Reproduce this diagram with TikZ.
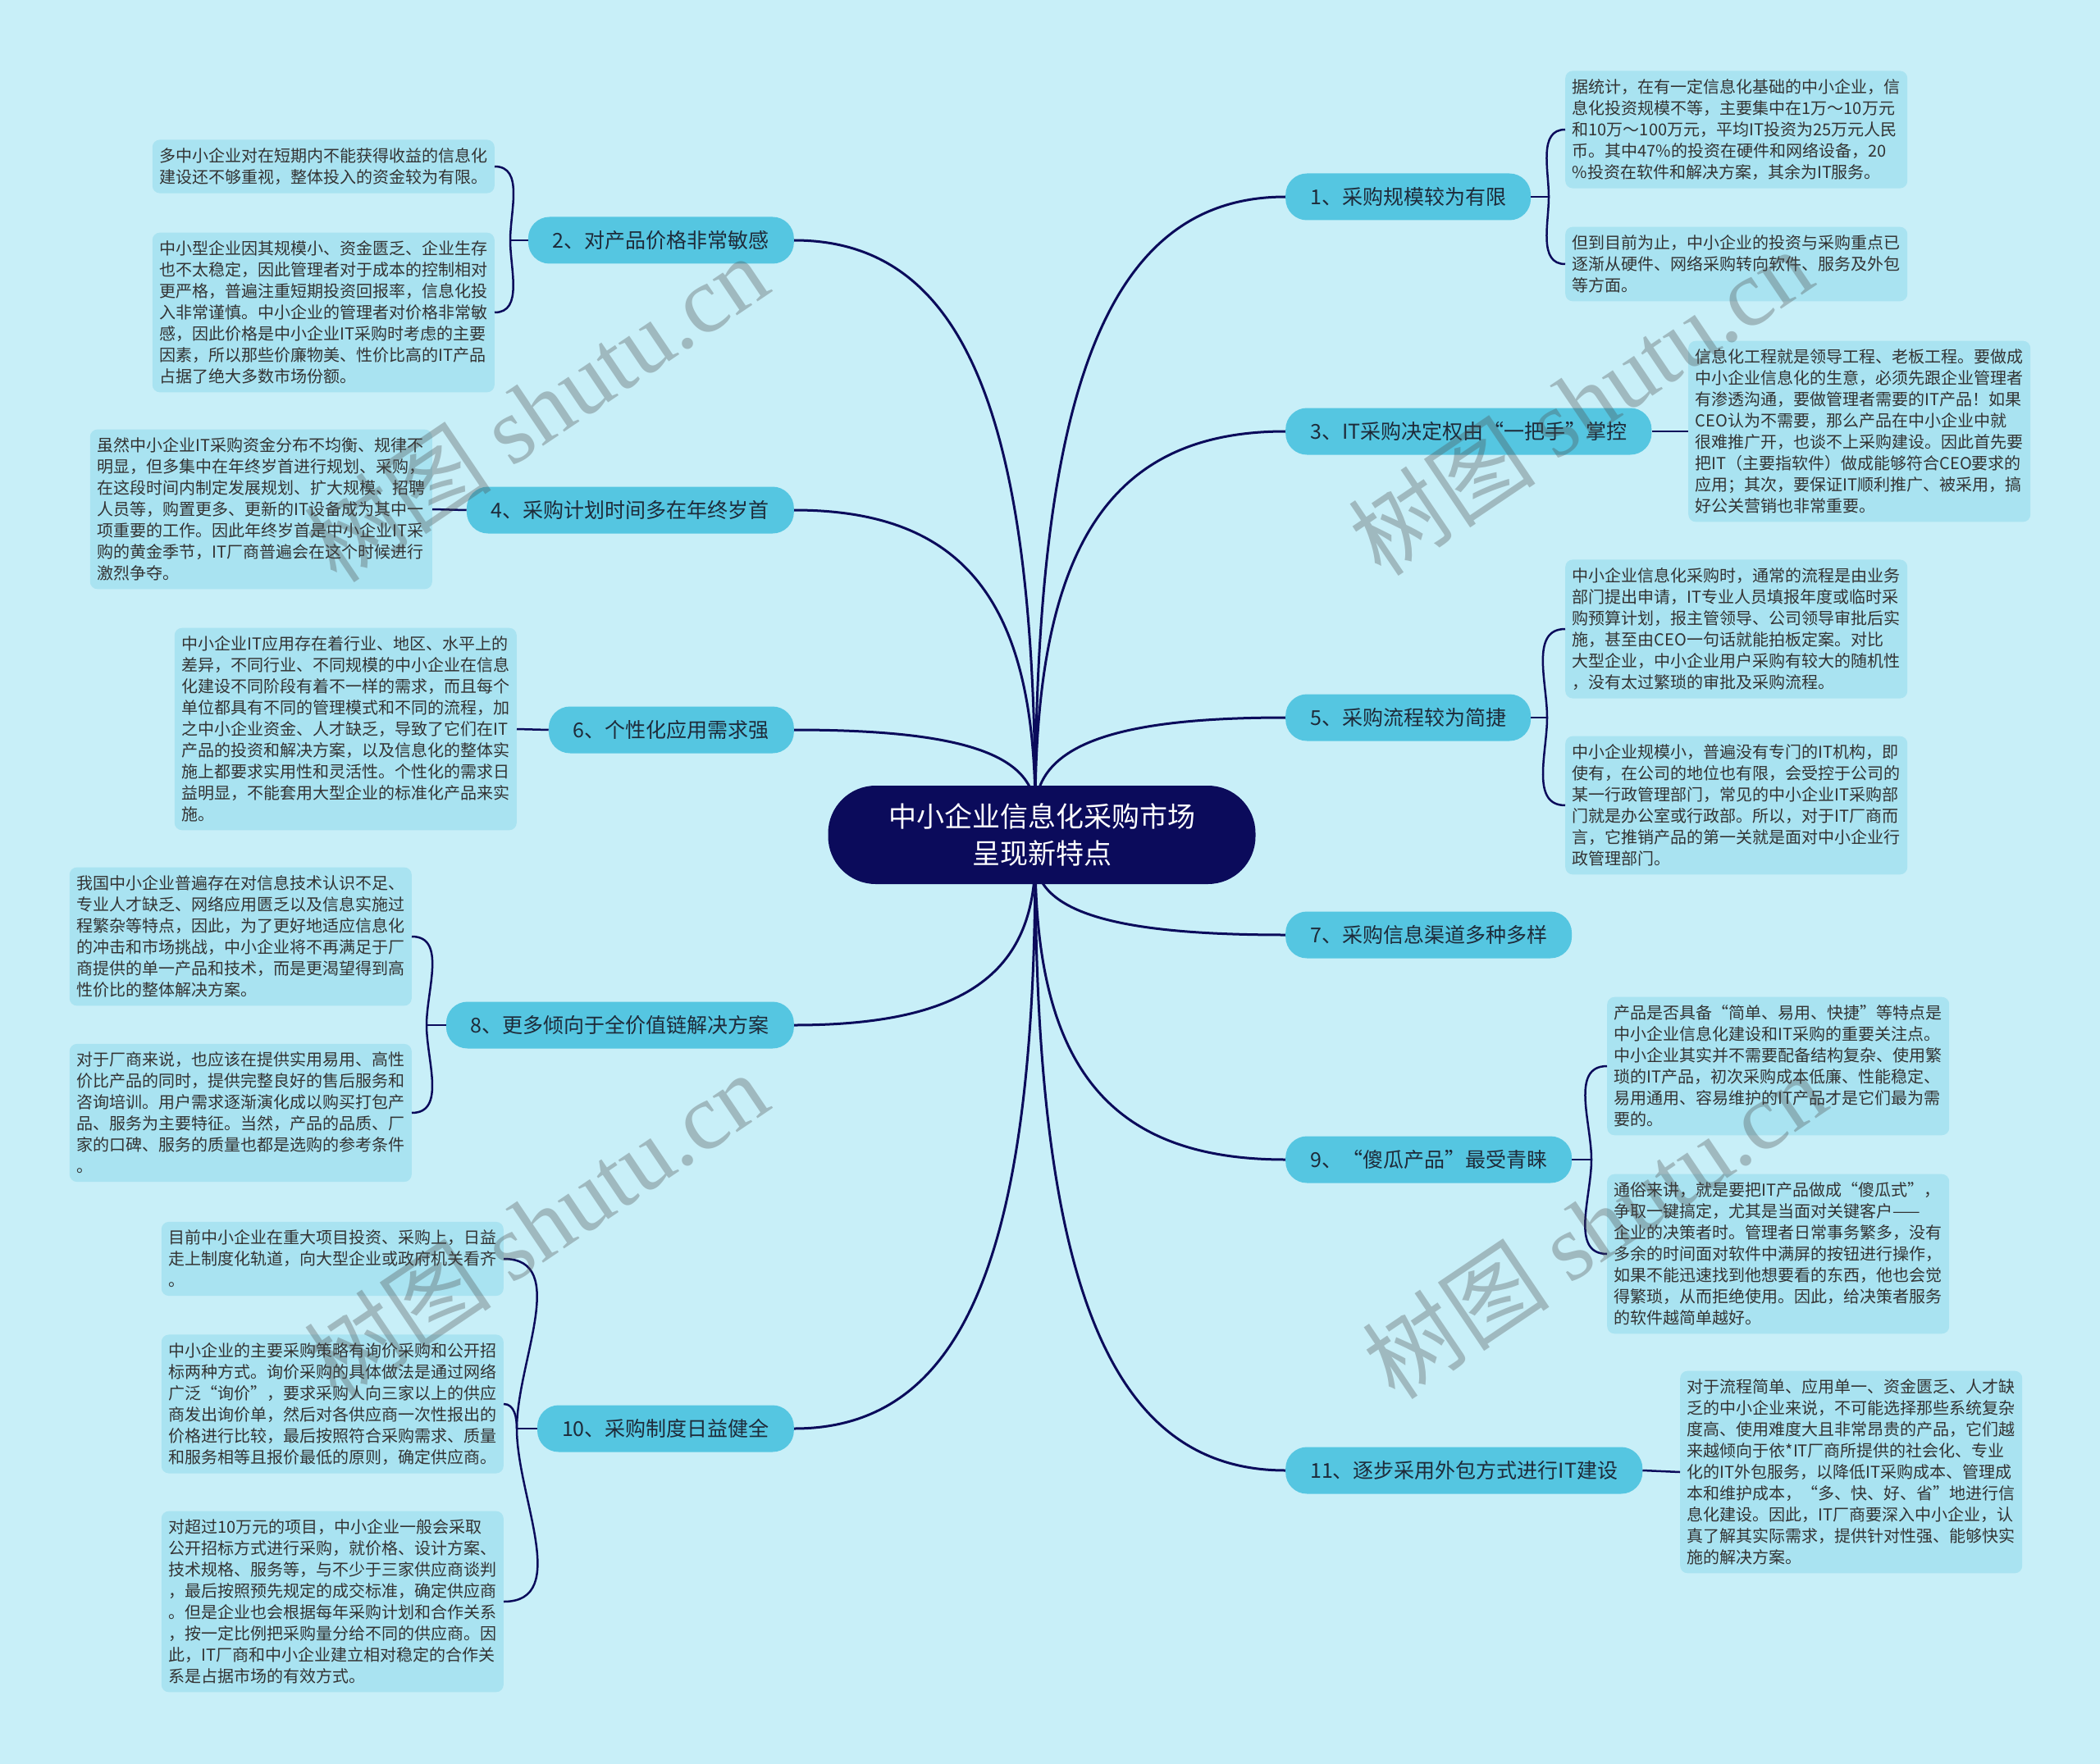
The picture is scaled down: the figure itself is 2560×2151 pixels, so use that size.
\documentclass[tikz,border=0pt]{standalone}
\usepackage{fontspec}
\setmainfont{Noto Sans CJK SC}
\newfontfamily\cjkwm{Noto Sans CJK SC}
\newfontfamily\wmserif{Liberation Serif}
\usetikzlibrary{calc,backgrounds}
\definecolor{bgc}{HTML}{C8EFF8}
\definecolor{navy}{HTML}{0B0B5B}
\definecolor{brc}{HTML}{55C6E1}
\definecolor{brtext}{HTML}{1E2B3A}
\definecolor{leafc}{HTML}{A9E3F1}
\definecolor{leaftext}{HTML}{333333}
\begin{document}
\begin{tikzpicture}[x=1pt,y=1pt,
  rootnode/.style={rounded corners=58pt, fill=navy, text=white, font=\fontsize{34}{45}\selectfont, align=center, minimum width=521pt, minimum height=120pt},
  brnode/.style={rounded corners=26pt, fill=brc, text=brtext, font=\fontsize{25}{30}\selectfont, minimum height=57pt, inner xsep=30pt},
  leafnode/.style={rounded corners=9pt, fill=leafc, text=leaftext, font=\fontsize{20}{26}\selectfont, text width=400pt, align=left, inner xsep=8.5pt, inner ysep=10pt},
  link/.style={draw=navy, line width=3pt},
  sublink/.style={draw=navy, line width=2.5pt},
  wm/.style={text=black!70, text opacity=0.33, font=\fontsize{115}{120}\selectfont, rotate=34}
]
\useasboundingbox (0,0) rectangle (2560,-2151);

% root
\node[rootnode] (root) at (1270,-1018) {中小企业信息化采购市场\\呈现新特点};
\coordinate (rtop) at (1262,-990);
\coordinate (rbot) at (1262,-1045);

% branches
\node[brnode, anchor=west] (b1) at (1567,-240) {1、采购规模较为有限};
\node[brnode, anchor=east] (b2) at (968,-293) {2、对产品价格非常敏感};
\node[brnode, anchor=west] (b3) at (1567,-526) {3、IT采购决定权由“一把手”掌控};
\node[brnode, anchor=east] (b4) at (968,-622) {4、采购计划时间多在年终岁首};
\node[brnode, anchor=west] (b5) at (1567,-875) {5、采购流程较为简捷};
\node[brnode, anchor=east] (b6) at (968,-890) {6、个性化应用需求强};
\node[brnode, anchor=west] (b7) at (1567,-1140) {7、采购信息渠道多种多样};
\node[brnode, anchor=east] (b8) at (968,-1250) {8、更多倾向于全价值链解决方案};
\node[brnode, anchor=west] (b9) at (1567,-1414) {9、“傻瓜产品”最受青睐};
\node[brnode, anchor=east] (b10) at (968,-1742) {10、采购制度日益健全};
\node[brnode, anchor=west] (b11) at (1567,-1793) {11、逐步采用外包方式进行IT建设};

% leaves right
\node[leafnode, anchor=west] (l1a) at (1908,-158) {据统计，在有一定信息化基础的中小企业，信\\
息化投资规模不等，主要集中在1万～10万元\\
和10万～100万元，平均IT投资为25万元人民\\
币。其中47\%的投资在硬件和网络设备，20\\
\%投资在软件和解决方案，其余为IT服务。};
\node[leafnode, anchor=west] (l1b) at (1908,-322) {但到目前为止，中小企业的投资与采购重点已\\
逐渐从硬件、网络采购转向软件、服务及外包\\
等方面。};
\node[leafnode, anchor=west] (l3) at (2058,-526) {信息化工程就是领导工程、老板工程。要做成\\
中小企业信息化的生意，必须先跟企业管理者\\
有渗透沟通，要做管理者需要的IT产品！如果\\
CEO认为不需要，那么产品在中小企业中就\\
很难推广开，也谈不上采购建设。因此首先要\\
把IT（主要指软件）做成能够符合CEO要求的\\
应用；其次，要保证IT顺利推广、被采用，搞\\
好公关营销也非常重要。};
\node[leafnode, anchor=west] (l5a) at (1908,-767) {中小企业信息化采购时，通常的流程是由业务\\
部门提出申请，IT专业人员填报年度或临时采\\
购预算计划，报主管领导、公司领导审批后实\\
施，甚至由CEO一句话就能拍板定案。对比\\
大型企业，中小企业用户采购有较大的随机性\\
，没有太过繁琐的审批及采购流程。};
\node[leafnode, anchor=west] (l5b) at (1908,-982) {中小企业规模小，普遍没有专门的IT机构，即\\
使有，在公司的地位也有限，会受控于公司的\\
某一行政管理部门，常见的中小企业IT采购部\\
门就是办公室或行政部。所以，对于IT厂商而\\
言，它推销产品的第一关就是面对中小企业行\\
政管理部门。};
\node[leafnode, anchor=west] (l9a) at (1959,-1300) {产品是否具备“简单、易用、快捷”等特点是\\
中小企业信息化建设和IT采购的重要关注点。\\
中小企业其实并不需要配备结构复杂、使用繁\\
琐的IT产品，初次采购成本低廉、性能稳定、\\
易用通用、容易维护的IT产品才是它们最为需\\
要的。};
\node[leafnode, anchor=west] (l9b) at (1959,-1529) {通俗来讲，就是要把IT产品做成“傻瓜式”，\\
争取一键搞定，尤其是当面对关键客户——\\
企业的决策者时。管理者日常事务繁多，没有\\
多余的时间面对软件中满屏的按钮进行操作，\\
如果不能迅速找到他想要看的东西，他也会觉\\
得繁琐，从而拒绝使用。因此，给决策者服务\\
的软件越简单越好。};
\node[leafnode, anchor=west] (l11) at (2048,-1795) {对于流程简单、应用单一、资金匮乏、人才缺\\
乏的中小企业来说，不可能选择那些系统复杂\\
度高、使用难度大且非常昂贵的产品，它们越\\
来越倾向于依*IT厂商所提供的社会化、专业\\
化的IT外包服务，以降低IT采购成本、管理成\\
本和维护成本，“多、快、好、省”地进行信\\
息化建设。因此，IT厂商要深入中小企业，认\\
真了解其实际需求，提供针对性强、能够快实\\
施的解决方案。};

% leaves left
\node[leafnode, anchor=east] (l2a) at (603,-203) {多中小企业对在短期内不能获得收益的信息化\\
建设还不够重视，整体投入的资金较为有限。};
\node[leafnode, anchor=east] (l2b) at (603,-381) {中小型企业因其规模小、资金匮乏、企业生存\\
也不太稳定，因此管理者对于成本的控制相对\\
更严格，普遍注重短期投资回报率，信息化投\\
入非常谨慎。中小企业的管理者对价格非常敏\\
感，因此价格是中小企业IT采购时考虑的主要\\
因素，所以那些价廉物美、性价比高的IT产品\\
占据了绝大多数市场份额。};
\node[leafnode, anchor=east] (l4) at (527,-621) {虽然中小企业IT采购资金分布不均衡、规律不\\
明显，但多集中在年终岁首进行规划、采购，\\
在这段时间内制定发展规划、扩大规模、招聘\\
人员等，购置更多、更新的IT设备成为其中一\\
项重要的工作。因此年终岁首是中小企业IT采\\
购的黄金季节，IT厂商普遍会在这个时候进行\\
激烈争夺。};
\node[leafnode, anchor=east] (l6) at (630,-889) {中小企业IT应用存在着行业、地区、水平上的\\
差异，不同行业、不同规模的中小企业在信息\\
化建设不同阶段有着不一样的需求，而且每个\\
单位都具有不同的管理模式和不同的流程，加\\
之中小企业资金、人才缺乏，导致了它们在IT\\
产品的投资和解决方案，以及信息化的整体实\\
施上都要求实用性和灵活性。个性化的需求日\\
益明显，不能套用大型企业的标准化产品来实\\
施。};
\node[leafnode, anchor=east] (l8a) at (502,-1142) {我国中小企业普遍存在对信息技术认识不足、\\
专业人才缺乏、网络应用匮乏以及信息实施过\\
程繁杂等特点，因此，为了更好地适应信息化\\
的冲击和市场挑战，中小企业将不再满足于厂\\
商提供的单一产品和技术，而是更渴望得到高\\
性价比的整体解决方案。};
\node[leafnode, anchor=east] (l8b) at (502,-1357) {对于厂商来说，也应该在提供实用易用、高性\\
价比产品的同时，提供完整良好的售后服务和\\
咨询培训。用户需求逐渐演化成以购买打包产\\
品、服务为主要特征。当然，产品的品质、厂\\
家的口碑、服务的质量也都是选购的参考条件\\
。};
\node[leafnode, anchor=east] (l10a) at (614,-1535) {目前中小企业在重大项目投资、采购上，日益\\
走上制度化轨道，向大型企业或政府机关看齐\\
。};
\node[leafnode, anchor=east] (l10b) at (614,-1712) {中小企业的主要采购策略有询价采购和公开招\\
标两种方式。询价采购的具体做法是通过网络\\
广泛“询价”，要求采购人向三家以上的供应\\
商发出询价单，然后对各供应商一次性报出的\\
价格进行比较，最后按照符合采购需求、质量\\
和服务相等且报价最低的原则，确定供应商。};
\node[leafnode, anchor=east] (l10c) at (614,-1953) {对超过10万元的项目，中小企业一般会采取\\
公开招标方式进行采购，就价格、设计方案、\\
技术规格、服务等，与不少于三家供应商谈判\\
，最后按照预先规定的成交标准，确定供应商\\
。但是企业也会根据每年采购计划和合作关系\\
，按一定比例把采购量分给不同的供应商。因\\
此，IT厂商和中小企业建立相对稳定的合作关\\
系是占据市场的有效方式。};

\begin{pgfonlayer}{background}
\fill[bgc] (0,0) rectangle (2560,-2151);
% main connectors
\draw[link] (rtop) .. controls (1262,-465) and (1354,-240) .. (b1.west);
\draw[link] (rtop) .. controls (1262,-665) and (1354,-526) .. (b3.west);
\draw[link] (rtop) .. controls (1262,-910) and (1354,-875) .. (b5.west);
\draw[link] (rbot) .. controls (1262,-1111) and (1354,-1140) .. (b7.west);
\draw[link] (rbot) .. controls (1262,-1303) and (1354,-1414) .. (b9.west);
\draw[link] (rbot) .. controls (1262,-1569) and (1354,-1793) .. (b11.west);
\draw[link] (rtop) .. controls (1262,-502) and (1174,-293) .. (b2.east);
\draw[link] (rtop) .. controls (1262,-732) and (1174,-622) .. (b4.east);
\draw[link] (rtop) .. controls (1262,-920) and (1174,-890) .. (b6.east);
\draw[link] (rbot) .. controls (1262,-1188) and (1174,-1250) .. (b8.east);
\draw[link] (rbot) .. controls (1262,-1533) and (1174,-1742) .. (b10.east);
\end{pgfonlayer}

% sub connectors right
\coordinate (j1) at (1888,-240);
\draw[sublink] (b1.east) -- (j1);
\draw[sublink] (j1) to[out=90,in=180] (l1a.west);
\draw[sublink] (j1) to[out=-90,in=180] (l1b.west);
\draw[sublink] (b3.east) -- (l3.west);
\coordinate (j5) at (1886,-875);
\draw[sublink] (b5.east) -- (j5);
\draw[sublink] (j5) to[out=90,in=180] (l5a.west);
\draw[sublink] (j5) to[out=-90,in=180] (l5b.west);
\coordinate (j9) at (1940,-1414);
\draw[sublink] (b9.east) -- (j9);
\draw[sublink] (j9) to[out=90,in=180] (l9a.west);
\draw[sublink] (j9) to[out=-90,in=180] (l9b.west);
\draw[sublink] (b11.east) -- (l11.west);
% sub connectors left
\coordinate (j2) at (622,-293);
\draw[sublink] (b2.west) -- (j2);
\draw[sublink] (j2) to[out=90,in=0] (l2a.east);
\draw[sublink] (j2) to[out=-90,in=0] (l2b.east);
\draw[sublink] (b4.west) -- (l4.east);
\draw[sublink] (b6.west) -- (l6.east);
\coordinate (j8) at (520,-1250);
\draw[sublink] (b8.west) -- (j8);
\draw[sublink] (j8) to[out=90,in=0] (l8a.east);
\draw[sublink] (j8) to[out=-90,in=0] (l8b.east);
\coordinate (j10) at (630,-1742);
\draw[sublink] (b10.west) -- (j10);
\draw[sublink] (j10) to[out=90,in=0] (l10a.east);
\draw[sublink] (j10) to[out=90,in=0] (l10b.east);
\draw[sublink] (j10) to[out=-90,in=0] (l10c.east);

% watermarks
\node[wm] (wm1) at (653,-498) {\cjkwm 树图 \wmserif shutu.cn};
\node[wm] (wm2) at (1926,-490) {\cjkwm 树图 \wmserif shutu.cn};
\node[wm] (wm3) at (653,-1494) {\cjkwm 树图 \wmserif shutu.cn};
\node[wm] (wm4) at (1943,-1494) {\cjkwm 树图 \wmserif shutu.cn};
\end{tikzpicture}
\end{document}
